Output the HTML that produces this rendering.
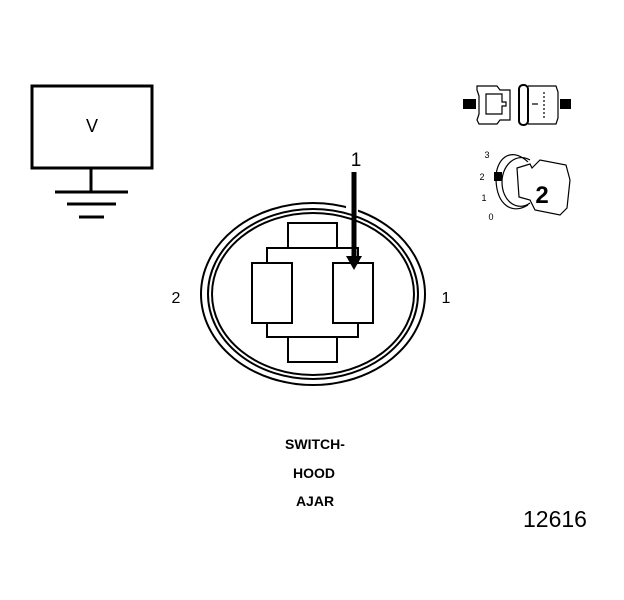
<!DOCTYPE html>
<html><head><style>body{margin:0;background:#fff}svg{display:block}</style></head><body>
<svg width="624" height="600" viewBox="0 0 624 600" xmlns="http://www.w3.org/2000/svg" font-family="Liberation Sans, sans-serif">
<rect width="624" height="600" fill="#fff"/>
<!-- V box + ground -->
<rect x="32" y="86" width="120" height="82" fill="none" stroke="#000" stroke-width="3"/>
<text x="92" y="132" font-size="18" text-anchor="middle">V</text>
<line x1="91" y1="168" x2="91" y2="192" stroke="#000" stroke-width="3"/>
<line x1="55" y1="192" x2="128" y2="192" stroke="#000" stroke-width="3"/>
<line x1="67" y1="204" x2="116" y2="204" stroke="#000" stroke-width="3"/>
<line x1="79" y1="217" x2="104" y2="217" stroke="#000" stroke-width="3"/>
<!-- connector -->
<g fill="none" stroke="#000" stroke-width="2">
<ellipse cx="313" cy="294" rx="105" ry="85"/>
<ellipse cx="313" cy="294" rx="101" ry="81"/>
<ellipse cx="313" cy="294" rx="112" ry="91"/>
</g>
<rect x="346" y="198" width="12" height="14" fill="#fff"/>
<g fill="none" stroke="#000" stroke-width="2">
<rect x="288" y="223" width="49" height="25"/>
<rect x="288" y="337" width="49" height="25"/>
<polyline points="267,263 267,248 358,248 358,263"/>
<polyline points="267,322 267,337 358,337 358,322"/>
<rect x="252" y="263" width="40" height="60"/>
<rect x="333" y="263" width="40" height="60"/>
</g>
<line x1="354" y1="172" x2="354" y2="258" stroke="#000" stroke-width="5"/>
<polygon points="346,256 362,256 354,270" fill="#000"/>
<text x="356" y="166" font-size="19" text-anchor="middle">1</text>
<text x="176" y="303" font-size="16" text-anchor="middle">2</text>
<text x="446" y="303" font-size="16" text-anchor="middle">1</text>
<!-- plug icon -->
<g fill="none" stroke="#000" stroke-width="1.2">
<path d="M477 86 H497 L500 90 H510 V120 H500 L497 124 H479 L477 120 L479 114 V96 L477 90 Z"/>
<path d="M486 94 H502 V102 H506 V106 H502 V114 H486 Z"/>
<rect x="519" y="85" width="9" height="40" rx="4" stroke-width="2"/>
<path d="M528 86 H556 L558 92 V118 L556 124 H528"/>
<line x1="532" y1="104" x2="538" y2="104"/>
<line x1="544" y1="92" x2="544" y2="120" stroke-dasharray="2,2"/>
</g>
<rect x="463" y="99" width="13" height="10" fill="#000"/>
<rect x="560" y="99" width="11" height="10" fill="#000"/>
<!-- key icon -->
<g fill="none" stroke="#000" stroke-width="1.2">
<path d="M528 162 C510 145 495 160 496 180 C497 205 512 215 528 205"/>
<path d="M530 160 C516 152 502 165 502 182 C502 202 518 212 530 203"/>
<path d="M517 168 L530 164 L532 168 L540 160 L566 165 L570 180 L567 208 L560 215 L535 210 L530 200 L519 197 Z"/>
</g>
<rect x="494" y="172" width="8" height="9" fill="#000"/>
<text x="542" y="203" font-size="24" font-weight="bold" text-anchor="middle">2</text>
<text x="487" y="158" font-size="9" text-anchor="middle">3</text>
<text x="482" y="180" font-size="9" text-anchor="middle">2</text>
<text x="484" y="201" font-size="9" text-anchor="middle">1</text>
<text x="491" y="220" font-size="9" text-anchor="middle">0</text>
<!-- labels -->
<g font-size="14" font-weight="bold" text-anchor="middle">
<text x="315" y="449">SWITCH-</text>
<text x="314" y="478">HOOD</text>
<text x="315" y="506">AJAR</text>
</g>
<text x="555" y="527" font-size="23" text-anchor="middle">12616</text>
</svg>
</body></html>
